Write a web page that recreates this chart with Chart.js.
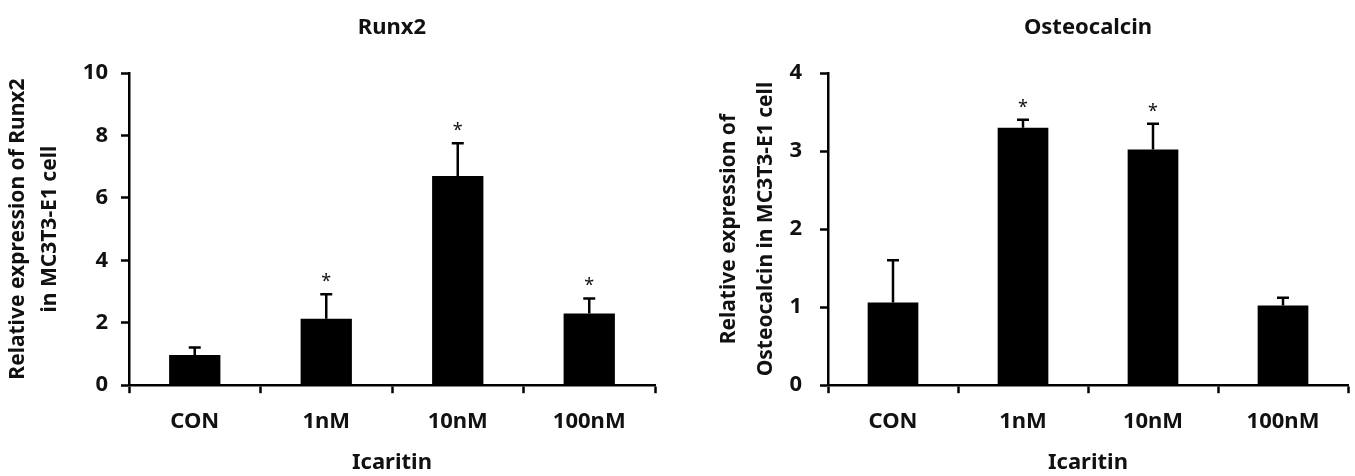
<!DOCTYPE html>
<html>
<head>
<meta charset="utf-8">
<script src="https://cdn.jsdelivr.net/npm/chart.js@4.4.1/dist/chart.umd.min.js"></script>
<style>
  html, body { margin: 0; padding: 0; background: #fff; }
  .panel { position: absolute; top: 0; }
</style>
</head>
<body>
<div class="panel" style="left:0"><canvas id="runx2Chart" width="677" height="476"></canvas></div>
<div class="panel" style="left:677px"><canvas id="osteoChart" width="678" height="476"></canvas></div>
<script>
const categories = ['CON', '1nM', '10nM', '100nM'];

const runx2Mean = [0.97, 2.13, 6.7, 2.3];
const runx2Err = [0.24, 0.78, 1.05, 0.48];
const runx2Sig = [false, true, true, true];
const runx2Ticks = [0, 2, 4, 6, 8, 10];

const osteoMean = [1.06, 3.3, 3.02, 1.02];
const osteoErr = [0.54, 0.1, 0.33, 0.1];
const osteoSig = [false, true, true, false];
const osteoTicks = [0, 1, 2, 3, 4];

const FONT = '"Noto Sans", "DejaVu Sans", sans-serif';
const INK = '#111';

function buildChart(canvasId, title, yTitle, means, errs, sig, tickVals, geo) {
    const ctxEl = document.getElementById(canvasId);

    // error bars, asterisks and panel title
    const extras = {
        id: 'extras_' + canvasId,
        afterDatasetsDraw(chart) {
            const ctx = chart.ctx;
            const yScale = chart.scales.y;
            const meta = chart.getDatasetMeta(0);
            ctx.save();
            ctx.strokeStyle = '#000';
            ctx.lineWidth = 2.5;
            ctx.fillStyle = INK;
            meta.data.forEach(function(bar, i) {
                const top = yScale.getPixelForValue(means[i] + errs[i]);
                ctx.beginPath();
                ctx.moveTo(bar.x, bar.y);
                ctx.lineTo(bar.x, top);
                ctx.moveTo(bar.x - 6, top);
                ctx.lineTo(bar.x + 6, top);
                ctx.stroke();
                if (sig[i]) {
                    ctx.font = '18px ' + FONT;
                    ctx.textAlign = 'center';
                    ctx.textBaseline = 'alphabetic';
                    ctx.fillText('*', bar.x, top - 7);
                }
            });
            const area = chart.chartArea;
            ctx.font = 'bold 22px ' + FONT;
            ctx.textAlign = 'center';
            ctx.textBaseline = 'middle';
            ctx.fillText(title, (area.left + area.right) / 2, 28);
            ctx.restore();
        }
    };

    return new Chart(ctxEl, {
        type: 'bar',
        data: {
            labels: categories,
            datasets: [{
                data: means,
                backgroundColor: '#000',
                borderWidth: 0,
                barPercentage: 0.39,
                categoryPercentage: 1.0
            }]
        },
        options: {
            responsive: false,
            animation: false,
            layout: {
                padding: { top: 73, left: geo.padLeft, right: geo.padRight, bottom: 0 }
            },
            plugins: {
                legend: { display: false },
                tooltip: { enabled: false }
            },
            scales: {
                x: {
                    offset: true,
                    grid: {
                        offset: true,
                        drawOnChartArea: false,
                        drawTicks: true,
                        tickLength: 8,
                        tickWidth: 2.5,
                        tickColor: '#000'
                    },
                    border: { display: true, color: '#000', width: 2.5 },
                    ticks: {
                        color: INK,
                        padding: 15,
                        font: { family: FONT, size: 22, weight: 'bold' }
                    },
                    title: {
                        display: true,
                        text: 'Icaritin',
                        color: INK,
                        font: { family: FONT, size: 22, weight: 'bold' },
                        padding: { top: 0, bottom: 0 }
                    }
                },
                y: {
                    min: tickVals[0],
                    max: tickVals[tickVals.length - 1],
                    afterBuildTicks: function(scale) {
                        scale.ticks = tickVals.map(function(v) { return { value: v }; });
                    },
                    afterFit: function(scale) {
                        scale.width = geo.axisWidth;
                    },
                    grid: {
                        drawOnChartArea: false,
                        drawTicks: true,
                        tickLength: 8,
                        tickWidth: 2.5,
                        tickColor: '#000'
                    },
                    border: { display: true, color: '#000', width: 2.5 },
                    ticks: {
                        color: INK,
                        padding: geo.tickPad,
                        font: { family: FONT, size: 22, weight: 'bold' }
                    },
                    title: {
                        display: true,
                        text: yTitle,
                        color: INK,
                        font: { family: FONT, size: geo.titleSize, weight: 'bold', lineHeight: geo.titleLine / geo.titleSize },
                        padding: 0
                    }
                }
            }
        },
        plugins: [extras]
    });
}

buildChart('runx2Chart', 'Runx2',
    ['Relative expression of Runx2', 'in MC3T3-E1 cell'],
    runx2Mean, runx2Err, runx2Sig, runx2Ticks,
    { padLeft: 2, padRight: 22, axisWidth: 127, tickPad: 13, titleSize: 21, titleLine: 32 });

buildChart('osteoChart', 'Osteocalcin',
    ['Relative expression of', 'Osteocalcin in MC3T3-E1 cell'],
    osteoMean, osteoErr, osteoSig, osteoTicks,
    { padLeft: 34, padRight: 7, axisWidth: 117, tickPad: 18, titleSize: 21, titleLine: 37 });
</script>
</body>
</html>
